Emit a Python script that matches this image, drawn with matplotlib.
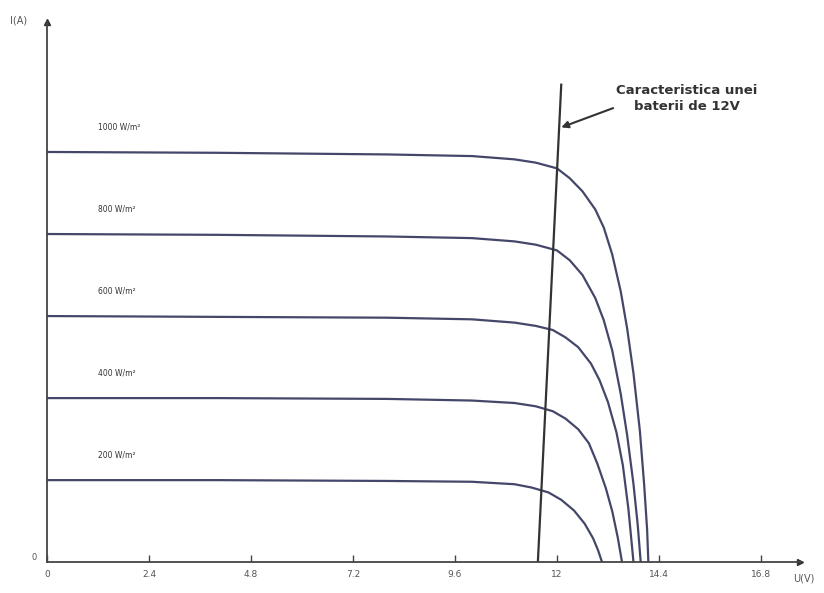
import matplotlib
matplotlib.use('Agg')
import matplotlib.pyplot as plt

# I-V curves of the panel for several irradiance levels
v_1000 = [0, 4, 8, 10, 11, 11.5, 12.0, 12.3, 12.6, 12.9, 13.1, 13.3, 13.5, 13.65, 13.8, 13.95, 14.05, 14.12, 14.15]
i_1000 = [5.0, 4.99, 4.97, 4.95, 4.91, 4.87, 4.80, 4.68, 4.52, 4.30, 4.08, 3.75, 3.30, 2.85, 2.30, 1.60, 0.95, 0.40, 0]
v_800 = [0, 4, 8, 10, 11, 11.5, 12.0, 12.3, 12.6, 12.9, 13.1, 13.3, 13.5, 13.65, 13.8, 13.9, 13.97]
i_800 = [4.0, 3.99, 3.97, 3.95, 3.91, 3.87, 3.80, 3.68, 3.50, 3.22, 2.95, 2.58, 2.05, 1.55, 0.95, 0.45, 0]
v_600 = [0, 4, 8, 10, 11, 11.5, 11.9, 12.2, 12.5, 12.8, 13.0, 13.2, 13.4, 13.55, 13.68, 13.8]
i_600 = [3.0, 2.99, 2.98, 2.96, 2.92, 2.88, 2.83, 2.74, 2.62, 2.42, 2.22, 1.95, 1.58, 1.18, 0.65, 0]
v_400 = [0, 4, 8, 10, 11, 11.5, 11.9, 12.2, 12.5, 12.75, 12.95, 13.15, 13.3, 13.43, 13.53]
i_400 = [2.0, 2.0, 1.99, 1.97, 1.94, 1.90, 1.84, 1.75, 1.62, 1.45, 1.20, 0.90, 0.62, 0.30, 0]
v_200 = [0, 4, 8, 10, 11, 11.4, 11.8, 12.1, 12.4, 12.65, 12.85, 12.97, 13.06]
i_200 = [1.0, 1.0, 0.99, 0.98, 0.95, 0.91, 0.85, 0.76, 0.63, 0.47, 0.29, 0.14, 0]

curve_labels = ['1000 W/m²', '800 W/m²', '600 W/m²', '400 W/m²', '200 W/m²']

# battery characteristic (12 V battery)
v_batt = [11.55, 12.1]
i_batt = [0, 5.82]

x_ticks = [0, 2.4, 4.8, 7.2, 9.6, 12, 14.4, 16.8]
x_tick_labels = ['0', '2.4', '4.8', '7.2', '9.6', '12', '14.4', '16.8']

curve_color = '#45476a'

fig = plt.figure(figsize=(8.24, 5.93), dpi=100)
ax = fig.add_axes([0.057, 0.052, 0.914, 0.911])

curves = [(v_1000, i_1000), (v_800, i_800), (v_600, i_600), (v_400, i_400), (v_200, i_200)]
for (v, i), lab in zip(curves, curve_labels):
    ax.plot(v, i, color=curve_color, lw=1.6, solid_joinstyle='round')
    ax.text(1.2, i[0] + 0.25, lab, fontsize=5.5, color='#333333', va='bottom')

ax.plot(v_batt, i_batt, color='#333333', lw=1.6)

# annotation for the battery line
ax.annotate('Caracteristica unei\nbaterii de 12V', xy=(12.1, 5.3), xytext=(15.05, 5.65),
            fontsize=9.5, fontweight='bold', color='#333333', ha='center', va='center',
            linespacing=1.3,
            arrowprops=dict(arrowstyle='-|>', color='#333333', lw=1.5,
                            shrinkA=0, shrinkB=0, mutation_scale=10,
                            relpos=(0.05, 0.3)))

ax.set_xlim(0, 17.72)
ax.set_ylim(0, 6.585)

ax.spines['top'].set_visible(False)
ax.spines['right'].set_visible(False)
ax.spines['left'].set_color('#444444')
ax.spines['bottom'].set_color('#444444')
ax.spines['left'].set_linewidth(1.3)
ax.spines['bottom'].set_linewidth(1.3)

ax.set_xticks(x_ticks)
ax.set_xticklabels(x_tick_labels)
ax.tick_params(axis='x', direction='in', length=5, width=1, colors='#444444',
               labelsize=6.5, labelcolor='#555555', pad=6)
ax.set_yticks([])

# axis arrows
ax.plot(1, 0, '>', color='#333333', ms=5, transform=ax.get_yaxis_transform(), clip_on=False)
ax.plot(0, 1, '^', color='#333333', ms=4, transform=ax.get_xaxis_transform(), clip_on=False)

fig.text(0.012, 0.965, 'I(A)', fontsize=7, color='#555555', va='center')
fig.text(0.963, 0.025, 'U(V)', fontsize=7, color='#555555', va='center')
fig.text(0.045, 0.06, '0', fontsize=6, color='#555555', va='center', ha='right')

fig.savefig('out.png', dpi=100)
